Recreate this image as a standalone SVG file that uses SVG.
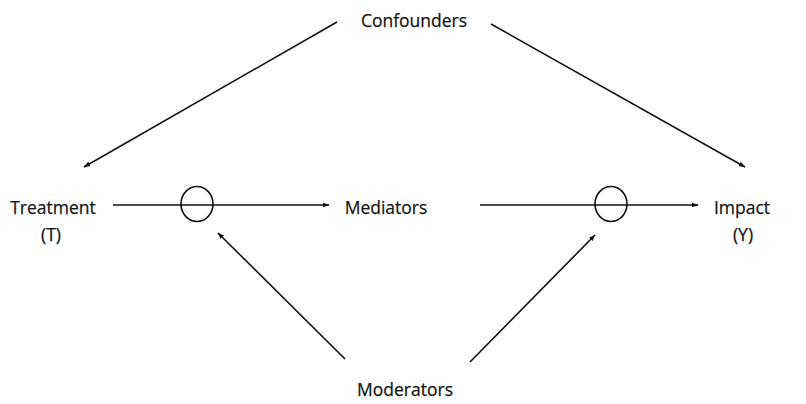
<svg xmlns="http://www.w3.org/2000/svg" width="806" height="404" viewBox="0 0 806 404">
  <defs>
    <marker id="arr" viewBox="0 0 10 10" refX="9" refY="5" markerWidth="7" markerHeight="7" markerUnits="userSpaceOnUse" orient="auto">
      <path d="M0,1.5 L10,5 L0,8.5 z" fill="#111"/>
    </marker>
    <style>
      .lbl { font-family: "Open Sans", "Noto Sans", sans-serif; font-size: 17.5px; fill: #151515; text-anchor: middle; stroke: #151515; stroke-width: 0.25; }
      .edge { stroke: #111; stroke-width: 1.6; fill: none; marker-end: url(#arr); }
      .gate { stroke: #111; stroke-width: 1.6; fill: none; }
    </style>
  </defs>
  <rect width="806" height="404" fill="#ffffff"/>

  <g id="edges">
    <line class="edge" x1="337" y1="22" x2="84" y2="167"/>
    <line class="edge" x1="491" y1="24" x2="745" y2="167"/>
    <line class="edge" x1="113" y1="205" x2="329" y2="205"/>
    <line class="edge" x1="480" y1="205" x2="698" y2="205"/>
    <line class="edge" x1="345" y1="359" x2="218" y2="233"/>
    <line class="edge" x1="470" y1="362" x2="595" y2="235"/>
  </g>

  <g id="gate1">
    <ellipse class="gate" cx="197" cy="204" rx="16" ry="17.5"/>
  </g>
  <g id="gate2">
    <ellipse class="gate" cx="611" cy="204" rx="16" ry="17.5"/>
  </g>

  <g id="confounders">
    <text class="lbl" x="414" y="27">Confounders</text>
  </g>
  <g id="treatment">
    <text class="lbl" x="53" y="214">Treatment</text>
    <text class="lbl" x="51" y="241">(T)</text>
  </g>
  <g id="mediators">
    <text class="lbl" x="386" y="214">Mediators</text>
  </g>
  <g id="impact">
    <text class="lbl" x="742" y="214">Impact</text>
    <text class="lbl" x="743" y="241">(Y)</text>
  </g>
  <g id="moderators">
    <text class="lbl" x="405" y="396">Moderators</text>
  </g>
</svg>
